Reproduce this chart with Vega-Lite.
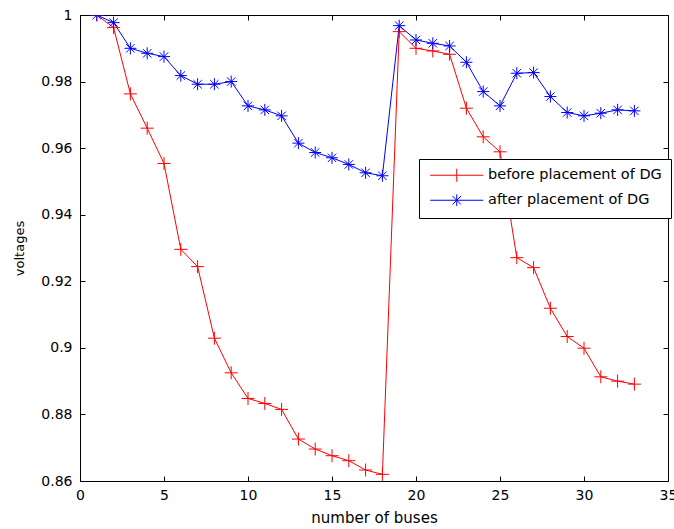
{
  "$schema": "https://vega.github.io/schema/vega-lite/v6.json",
  "width": 588,
  "height": 466,
  "autosize": "none",
  "padding": {"left": 80, "top": 15, "right": 6, "bottom": 48},
  "background": "white",
  "config": {
    "font": "DejaVu Sans",
    "view": {"stroke": "black", "strokeWidth": 1},
    "axis": {"grid": false, "domain": false, "tickColor": "black", "labelColor": "black", "titleColor": "black", "labelFont": "DejaVu Sans", "titleFont": "DejaVu Sans", "titleFontWeight": "normal"}
  },
  "data": {
    "values": [
      {"bus": 1, "v": 1.0, "series": "before placement of DG"},
      {"bus": 2, "v": 0.9962, "series": "before placement of DG"},
      {"bus": 3, "v": 0.9763, "series": "before placement of DG"},
      {"bus": 4, "v": 0.966, "series": "before placement of DG"},
      {"bus": 5, "v": 0.9554, "series": "before placement of DG"},
      {"bus": 6, "v": 0.9296, "series": "before placement of DG"},
      {"bus": 7, "v": 0.9244, "series": "before placement of DG"},
      {"bus": 8, "v": 0.9029, "series": "before placement of DG"},
      {"bus": 9, "v": 0.8925, "series": "before placement of DG"},
      {"bus": 10, "v": 0.8848, "series": "before placement of DG"},
      {"bus": 11, "v": 0.8833, "series": "before placement of DG"},
      {"bus": 12, "v": 0.8815, "series": "before placement of DG"},
      {"bus": 13, "v": 0.8726, "series": "before placement of DG"},
      {"bus": 14, "v": 0.8696, "series": "before placement of DG"},
      {"bus": 15, "v": 0.8676, "series": "before placement of DG"},
      {"bus": 16, "v": 0.8661, "series": "before placement of DG"},
      {"bus": 17, "v": 0.8633, "series": "before placement of DG"},
      {"bus": 18, "v": 0.862, "series": "before placement of DG"},
      {"bus": 19, "v": 0.995, "series": "before placement of DG"},
      {"bus": 20, "v": 0.990, "series": "before placement of DG"},
      {"bus": 21, "v": 0.9892, "series": "before placement of DG"},
      {"bus": 22, "v": 0.9882, "series": "before placement of DG"},
      {"bus": 23, "v": 0.972, "series": "before placement of DG"},
      {"bus": 24, "v": 0.9634, "series": "before placement of DG"},
      {"bus": 25, "v": 0.9589, "series": "before placement of DG"},
      {"bus": 26, "v": 0.9271, "series": "before placement of DG"},
      {"bus": 27, "v": 0.9241, "series": "before placement of DG"},
      {"bus": 28, "v": 0.9119, "series": "before placement of DG"},
      {"bus": 29, "v": 0.9034, "series": "before placement of DG"},
      {"bus": 30, "v": 0.8999, "series": "before placement of DG"},
      {"bus": 31, "v": 0.8913, "series": "before placement of DG"},
      {"bus": 32, "v": 0.89, "series": "before placement of DG"},
      {"bus": 33, "v": 0.8891, "series": "before placement of DG"},
      {"bus": 1, "v": 1.0, "series": "after placement of DG"},
      {"bus": 2, "v": 0.9977, "series": "after placement of DG"},
      {"bus": 3, "v": 0.990, "series": "after placement of DG"},
      {"bus": 4, "v": 0.9885, "series": "after placement of DG"},
      {"bus": 5, "v": 0.9875, "series": "after placement of DG"},
      {"bus": 6, "v": 0.9818, "series": "after placement of DG"},
      {"bus": 7, "v": 0.9792, "series": "after placement of DG"},
      {"bus": 8, "v": 0.9792, "series": "after placement of DG"},
      {"bus": 9, "v": 0.980, "series": "after placement of DG"},
      {"bus": 10, "v": 0.9727, "series": "after placement of DG"},
      {"bus": 11, "v": 0.9715, "series": "after placement of DG"},
      {"bus": 12, "v": 0.9697, "series": "after placement of DG"},
      {"bus": 13, "v": 0.9615, "series": "after placement of DG"},
      {"bus": 14, "v": 0.9587, "series": "after placement of DG"},
      {"bus": 15, "v": 0.9571, "series": "after placement of DG"},
      {"bus": 16, "v": 0.9551, "series": "after placement of DG"},
      {"bus": 17, "v": 0.9526, "series": "after placement of DG"},
      {"bus": 18, "v": 0.9517, "series": "after placement of DG"},
      {"bus": 19, "v": 0.9968, "series": "after placement of DG"},
      {"bus": 20, "v": 0.9925, "series": "after placement of DG"},
      {"bus": 21, "v": 0.9915, "series": "after placement of DG"},
      {"bus": 22, "v": 0.9907, "series": "after placement of DG"},
      {"bus": 23, "v": 0.9858, "series": "after placement of DG"},
      {"bus": 24, "v": 0.977, "series": "after placement of DG"},
      {"bus": 25, "v": 0.9727, "series": "after placement of DG"},
      {"bus": 26, "v": 0.9825, "series": "after placement of DG"},
      {"bus": 27, "v": 0.9827, "series": "after placement of DG"},
      {"bus": 28, "v": 0.9755, "series": "after placement of DG"},
      {"bus": 29, "v": 0.9707, "series": "after placement of DG"},
      {"bus": 30, "v": 0.9697, "series": "after placement of DG"},
      {"bus": 31, "v": 0.9705, "series": "after placement of DG"},
      {"bus": 32, "v": 0.9715, "series": "after placement of DG"},
      {"bus": 33, "v": 0.9712, "series": "after placement of DG"}
    ]
  },
  "layer": [
    {
      "mark": {"type": "line", "strokeWidth": 1, "clip": true},
      "encoding": {
        "x": {"field": "bus", "type": "quantitative", "scale": {"domain": [0, 35], "nice": false, "zero": false},
          "axis": {"orient": "bottom", "title": "number of buses", "values": [0, 5, 10, 15, 20, 25, 30, 35], "tickSize": -5, "labelPadding": 12, "labelFontSize": 14, "titleFontSize": 15, "titlePadding": 8, "labelFlush": false}},
        "y": {"field": "v", "type": "quantitative", "scale": {"domain": [0.86, 1], "nice": false, "zero": false},
          "axis": {"orient": "left", "title": "voltages", "values": [0.86, 0.88, 0.9, 0.92, 0.94, 0.96, 0.98, 1], "labelExpr": "format(datum.value, '~g')", "tickSize": -5, "labelPadding": 13, "labelFontSize": 14, "titleFontSize": 13, "titlePadding": 14}},
        "color": {"field": "series", "type": "nominal",
          "scale": {"domain": ["before placement of DG", "after placement of DG"], "range": ["#ff0000", "#0000ff"]},
          "legend": {
            "orient": "none", "legendX": 339, "legendY": 144, "title": null,
            "strokeColor": "black", "fillColor": "white",
            "padding": 9, "labelFontSize": 14.5, "labelFont": "DejaVu Sans", "labelColor": "black", "labelLimit": 0,
            "symbolSize": 169, "symbolStrokeWidth": 1, "rowPadding": 8, "labelOffset": 24, "symbolOffset": 21.5,
            "encode": {"symbols": {"update": {"shape": {"signal": "datum.value === 'before placement of DG' ? 'M-4.08,0H4.08M0,-1V1' : 'M-4.08,0H4.08M0,-0.9V0.9M-0.65,-0.65L0.65,0.65M-0.65,0.65L0.65,-0.65'"}, "fill": {"value": "transparent"}}}}
          }}
      }
    },
    {
      "transform": [{"filter": "datum.series === 'before placement of DG'"}],
      "mark": {"type": "point", "filled": false, "strokeWidth": 1, "opacity": 1, "size": 169, "clip": true, "color": "#ff0000", "shape": "M-1,0H1M0,-1V1"},
      "encoding": {
        "x": {"field": "bus", "type": "quantitative",
          "axis": {"orient": "top", "title": null, "labels": false, "values": [0, 5, 10, 15, 20, 25, 30, 35], "tickSize": -5}},
        "y": {"field": "v", "type": "quantitative",
          "axis": {"orient": "right", "title": null, "labels": false, "values": [0.86, 0.88, 0.9, 0.92, 0.94, 0.96, 0.98, 1], "tickSize": -5}}
      }
    },
    {
      "transform": [{"filter": "datum.series === 'after placement of DG'"}],
      "mark": {"type": "point", "filled": false, "strokeWidth": 1, "opacity": 1, "size": 144, "clip": true, "color": "#0000ff", "shape": "M-1,0H1M0,-1V1M-0.7,-0.7L0.7,0.7M-0.7,0.7L0.7,-0.7"},
      "encoding": {
        "x": {"field": "bus", "type": "quantitative", "axis": null},
        "y": {"field": "v", "type": "quantitative", "axis": null}
      }
    }
  ],
  "resolve": {"axis": {"x": "independent", "y": "independent"}}
}
